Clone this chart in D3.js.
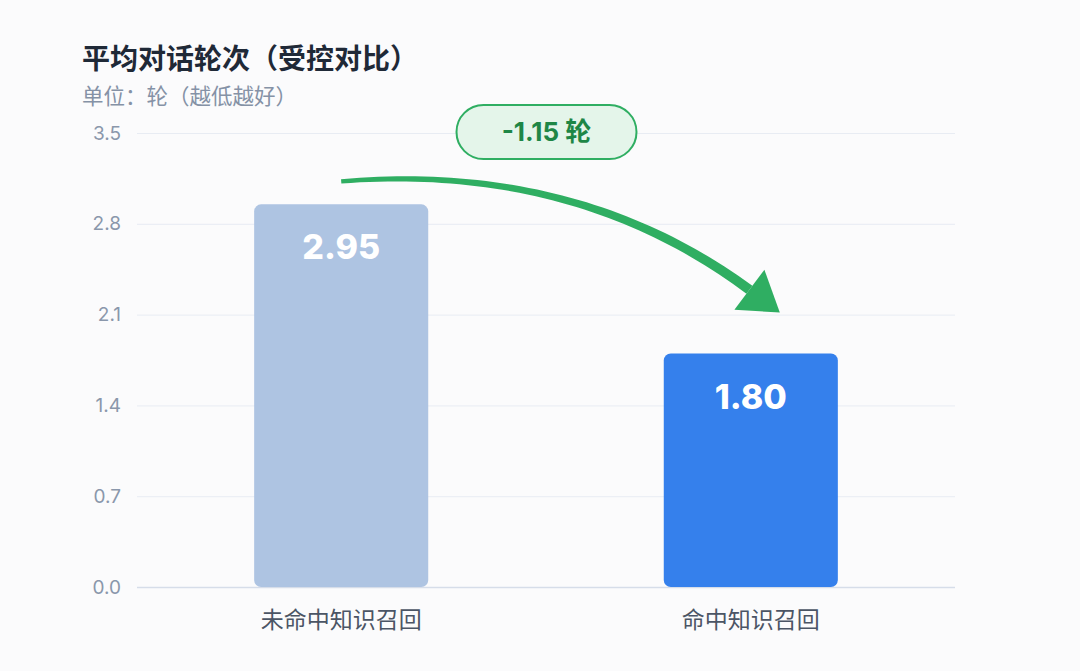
<!DOCTYPE html>
<html>
<head>
<meta charset="utf-8">
<script src="https://cdn.jsdelivr.net/npm/d3@7"></script>
<style>
  html, body { margin: 0; padding: 0; background: #fbfbfc; }
  svg { display: block; font-family: "Noto Sans CJK SC", "Noto Sans", sans-serif; }
</style>
</head>
<body>
<div id="chart"></div>
<script>
const categories = [`未命中知识召回`, `命中知识召回`];
const values = [2.95, 1.80];
const barColors = [`#aec4e2`, `#3580ec`];
const yTicks = [0, 0.7, 1.4, 2.1, 2.8, 3.5];
const deltaLabel = `-1.15 轮`;

const width = 1080;
const height = 671;
const margin = { top: 133, right: 125, bottom: 84, left: 137 };

const svg = d3.select(`#chart`)
  .append(`svg`)
  .attr(`width`, width)
  .attr(`height`, height)
  .attr(`viewBox`, `0 0 ${width} ${height}`);

svg.append(`rect`).attr(`width`, width).attr(`height`, height).attr(`fill`, `#fbfbfc`);

// scales
const x = d3.scaleBand()
  .domain(categories)
  .range([margin.left, width - margin.right])
  .paddingInner(0.575)
  .paddingOuter(0.286);

const y = d3.scaleLinear()
  .domain([0, 3.5])
  .range([height - margin.bottom, margin.top]);

// title
svg.append(`text`)
  .attr(`x`, 82).attr(`y`, 69)
  .attr(`font-size`, 28).attr(`font-weight`, 700)
  .attr(`fill`, `#1f2937`)
  .text(`平均对话轮次（受控对比）`);
svg.append(`text`)
  .attr(`x`, 82).attr(`y`, 104)
  .attr(`font-size`, 21.5)
  .attr(`fill`, `#8592a6`)
  .text(`单位：轮（越低越好）`);

// grid + y axis
const yAxis = svg.append(`g`)
  .attr(`transform`, `translate(${margin.left},0)`)
  .call(d3.axisLeft(y)
    .tickValues(yTicks)
    .tickFormat(d3.format(`.1f`))
    .tickSize(-(width - margin.left - margin.right))
    .tickPadding(16));
yAxis.select(`.domain`).remove();
yAxis.selectAll(`.tick line`)
  .attr(`stroke`, (d) => d === 0 ? `#d6dde9` : `#e8ecf3`)
  .attr(`stroke-width`, (d) => d === 0 ? 1.5 : 1);
yAxis.selectAll(`.tick text`)
  .attr(`fill`, `#8a97ab`)
  .attr(`font-size`, 19)
  .attr(`font-family`, `Inter, "Noto Sans", sans-serif`);

// bars
const bars = svg.append(`g`);
bars.selectAll(`rect`)
  .data(values)
  .enter()
  .append(`rect`)
  .attr(`x`, (d, i) => x(categories[i]))
  .attr(`y`, (d) => y(d))
  .attr(`width`, x.bandwidth())
  .attr(`height`, (d) => y(0) - y(d))
  .attr(`rx`, 7)
  .attr(`fill`, (d, i) => barColors[i]);

bars.selectAll(`text`)
  .data(values)
  .enter()
  .append(`text`)
  .attr(`x`, (d, i) => x(categories[i]) + x.bandwidth() / 2)
  .attr(`y`, (d) => y(d) + 55)
  .attr(`text-anchor`, `middle`)
  .attr(`font-size`, 34)
  .attr(`font-weight`, 800)
  .attr(`font-family`, `Inter, "Noto Sans", sans-serif`)
  .attr(`fill`, `#ffffff`)
  .text((d) => d3.format(`.2f`)(d));

// category labels
svg.append(`g`)
  .selectAll(`text`)
  .data(categories)
  .enter()
  .append(`text`)
  .attr(`x`, (d) => x(d) + x.bandwidth() / 2)
  .attr(`y`, y(0) + 41)
  .attr(`text-anchor`, `middle`)
  .attr(`font-size`, 23)
  .attr(`fill`, `#4b5565`)
  .text((d) => d);

// curved arrow from bar 1 to bar 2 (tapered)
const p0 = [x(categories[0]) + x.bandwidth() / 2, y(values[0]) - 23];
const tip = [x(categories[1]) + x.bandwidth() / 2 + 29, y(values[1]) - 41];
const dir = [0.8, 0.6];
const headLen = 38;
const headHalf = 25;
const p2 = [tip[0] - dir[0] * headLen, tip[1] - dir[1] * headLen];
const c1 = [p0[0] + 236, p0[1] - 19];

const quad = (t) => [
  (1 - t) * (1 - t) * p0[0] + 2 * t * (1 - t) * c1[0] + t * t * p2[0],
  (1 - t) * (1 - t) * p0[1] + 2 * t * (1 - t) * c1[1] + t * t * p2[1],
];
const quadD = (t) => [
  2 * (1 - t) * (c1[0] - p0[0]) + 2 * t * (p2[0] - c1[0]),
  2 * (1 - t) * (c1[1] - p0[1]) + 2 * t * (p2[1] - c1[1]),
];
const steps = d3.range(0, 1.0001, 0.02);
const left = [];
const right = [];
steps.forEach((t) => {
  const p = quad(t);
  const d = quadD(t);
  const len = Math.hypot(d[0], d[1]);
  const nx = -d[1] / len, ny = d[0] / len;
  const w = 2.2 + t * 2.8;
  left.push([p[0] + nx * w, p[1] + ny * w]);
  right.push([p[0] - nx * w, p[1] - ny * w]);
});
const shaft = left.concat(right.reverse());
svg.append(`path`)
  .attr(`d`, d3.line()(shaft) + `Z`)
  .attr(`fill`, `#2fae62`);

const nrm = [-dir[1], dir[0]];
const head = [
  tip,
  [p2[0] + nrm[0] * headHalf, p2[1] + nrm[1] * headHalf],
  [p2[0] - nrm[0] * headHalf, p2[1] - nrm[1] * headHalf],
];
svg.append(`path`)
  .attr(`d`, d3.line()(head) + `Z`)
  .attr(`fill`, `#2fae62`);

// delta pill
const pillCx = (p0[0] + tip[0]) / 2 - 14;
const pillCy = y(3.5) - 1;
const pill = svg.append(`g`).attr(`transform`, `translate(${pillCx},${pillCy})`);
pill.append(`rect`)
  .attr(`x`, -90).attr(`y`, -27)
  .attr(`width`, 180).attr(`height`, 54)
  .attr(`rx`, 27)
  .attr(`fill`, `#e4f5ea`)
  .attr(`stroke`, `#2fae62`)
  .attr(`stroke-width`, 2);
pill.append(`text`)
  .attr(`x`, 0).attr(`y`, 9)
  .attr(`text-anchor`, `middle`)
  .attr(`font-size`, 26)
  .attr(`font-weight`, 700)
  .attr(`font-family`, `Inter, "Noto Sans CJK SC", sans-serif`)
  .attr(`fill`, `#1e8646`)
  .text(deltaLabel);
</script>
</body>
</html>
